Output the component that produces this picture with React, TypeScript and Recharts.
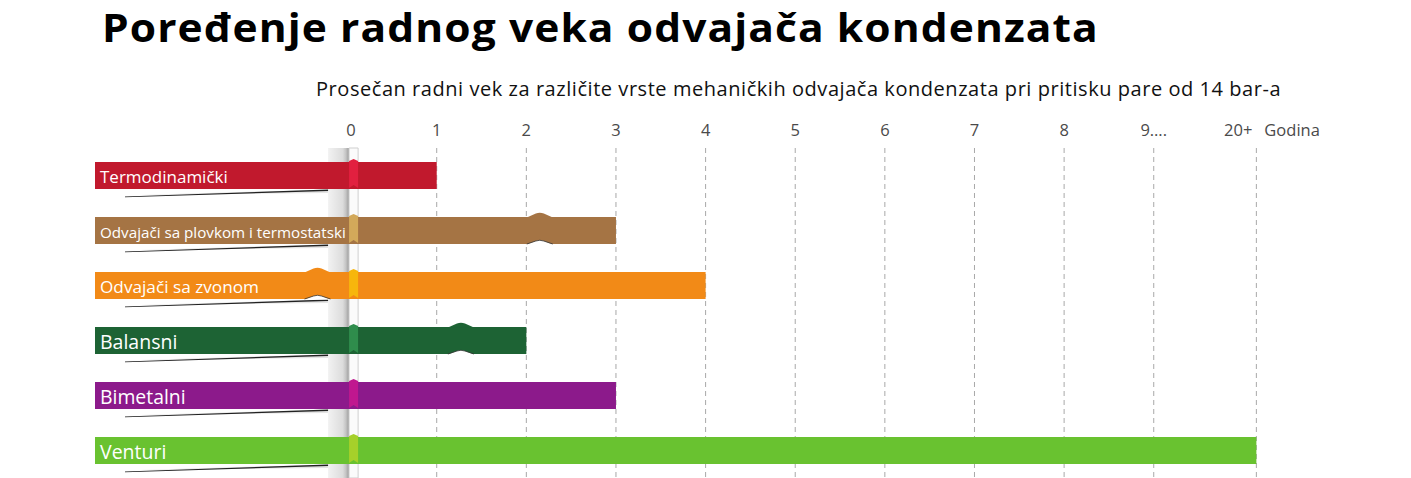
import { BarChart, Bar, XAxis, YAxis, CartesianGrid, ReferenceArea } from 'recharts'

// trap types, top to bottom
const TRAP_TYPES = [
  'Termodinamički',
  'Odvajači sa plovkom i termostatski',
  'Odvajači sa zvonom',
  'Balansni',
  'Bimetalni',
  'Venturi',
]
// average service life in years (Venturi sits on the "20+" mark)
const LIFE_YEARS = [1, 3, 4, 2, 3, 10.145]

const TICK_VALUES = [0, 1, 2, 3, 4, 5, 6, 7, 8, 9, 10.145]
const TICK_LABELS = ['0', '1', '2', '3', '4', '5', '6', '7', '8', '9….', '20+']

const BAR_COLORS = ['#c1192d', '#a57444', '#f28a17', '#1d6334', '#8c1a8b', '#69c230']
const ZERO_COLORS = ['#e2203f', '#d3a95a', '#f7b60c', '#2f8d4c', '#c0178f', '#a6d02a']
const LABEL_FONT = [17, 15.2, 17.2, 19.5, 19.4, 19.5]
// little decorative "folds" in some ribbons (in axis units)
const FOLD_AT: (number | null)[] = [null, 2.15, -0.33, 1.27, null, null]

const XMIN = -2.8125
const XMAX = 11
const PILLAR_L = -0.212
const PILLAR_M = 0.022
const PILLAR_R = 0.123
const FONT = '"Open Sans", "Noto Sans", sans-serif'

const data = TRAP_TYPES.map((name, i) => ({ name, years: LIFE_YEARS[i], idx: i }))

function YearTick(props: any) {
  const { x, y, payload, index } = props
  const label = TICK_LABELS[TICK_VALUES.indexOf(payload.value)] ?? String(payload.value)
  const last = index === TICK_VALUES.length - 1
  const tx = last ? x - 4 : payload.value === 0 ? x + 4 : x
  return (
    <g>
      <text x={tx} y={y} dy={-4} textAnchor={last ? 'end' : 'middle'} fill="#4a4a4a" fontSize={16.5} fontFamily={FONT}>
        {label}
      </text>
      {last && (
        <text x={x + 8} y={y} dy={-4} textAnchor="start" fill="#4a4a4a" fontSize={16.5} fontFamily={FONT}>Godina</text>
      )}
    </g>
  )
}

function TrapBar(props: any) {
  const { x, y, width, height, payload } = props
  const i = payload.idx
  const px = (v: number) => x + (width * (v - XMIN)) / (payload.years - XMIN)
  const xl = px(PILLAR_L)
  const xz = px((PILLAR_M + PILLAR_R) / 2)
  const b = y + height
  const f = FOLD_AT[i]
  const xf = f == null ? 0 : px(f)
  return (
    <g>
      {/* shadow under the label part */}
      <polygon points={`${x + 45},${b + 6} ${xl},${b + 0.5} ${xl},${b + 4}`} fill="#e4e4e4" />
      <polygon points={`${x + 30},${b + 7.5} ${xl},${b + 0.5} ${xl},${b + 2} ${x + 30},${b + 8.3}`} fill="#222" />
      <rect x={x} y={y} width={width} height={height} fill={BAR_COLORS[i]} />
      <polygon
        points={`${xz - 4.5},${y - 1} ${xz},${y - 3} ${xz + 4.5},${y - 1} ${xz + 4.5},${b - 1} ${xz},${b - 4} ${xz - 4.5},${b - 1}`}
        fill={ZERO_COLORS[i]}
      />
      {f != null && (
        <g>
          <path d={`M${xf - 13},${y + 0.5} L${xf - 4},${y - 3.5} Q${xf},${y - 5} ${xf + 4},${y - 3.5} L${xf + 13},${y + 0.5} Z`} fill={BAR_COLORS[i]} />
          <path d={`M${xf - 13},${b + 0.5} L${xf - 4},${b - 3} Q${xf},${b - 4.5} ${xf + 4},${b - 3} L${xf + 13},${b + 0.5} Z`} fill="#fff" />
          <path d={`M${xf - 13},${b} L${xf - 4},${b - 3} Q${xf},${b - 4.5} ${xf + 4},${b - 3} L${xf + 13},${b}`} fill="none" stroke="#333" strokeWidth={0.8} />
        </g>
      )}
      <text
        x={x + 5}
        y={y + height / 2 + 1}
        dominantBaseline="central"
        fill="#fff"
        fontSize={LABEL_FONT[i]}
        fontFamily={FONT}
      >
        {payload.name}
      </text>
    </g>
  )
}

export default function App() {
  return (
    <div style={{ position: 'absolute', left: 0, top: 0, width: 1411, height: 478, background: '#fff' }}>
      <div style={{ position: 'absolute', left: 102, top: 0, fontFamily: FONT, fontWeight: 700, fontSize: 39, letterSpacing: 1, transform: 'scaleX(1.09)', transformOrigin: '0 0', color: '#000', whiteSpace: 'nowrap' }}>
        Poređenje radnog veka odvajača kondenzata
      </div>
      <div style={{ position: 'absolute', left: 316, top: 77, fontFamily: FONT, fontSize: 20, letterSpacing: 0.55, lineHeight: 1.2, color: '#111', whiteSpace: 'nowrap' }}>
        Prosečan radni vek za različite vrste mehaničkih odvajača kondenzata pri pritisku pare od 14 bar-a
      </div>
      <BarChart
        width={1411}
        height={478}
        data={data}
        layout="vertical"
        margin={{ top: 118, right: 78, bottom: 0, left: 95 }}
        barSize={27}
      >
        <defs>
          <linearGradient id="pillar" x1="0" y1="0" x2="1" y2="0">
            <stop offset="0%" stopColor="#f2f2f2" />
            <stop offset="70%" stopColor="#dcdcdc" />
            <stop offset="85%" stopColor="#c4c4c4" />
            <stop offset="100%" stopColor="#9a9a9a" />
          </linearGradient>
        </defs>
        <CartesianGrid horizontal={false} verticalValues={TICK_VALUES} stroke="#a8a8a8" strokeDasharray="5 4" />
        <XAxis
          type="number"
          orientation="top"
          domain={[XMIN, XMAX]}
          ticks={TICK_VALUES}
          allowDataOverflow
          axisLine={false}
          tickLine={false}
          height={30}
          tick={<YearTick />}
          interval={0}
        />
        <YAxis type="category" dataKey="name" hide />
        <ReferenceArea x1={PILLAR_L} x2={PILLAR_M} fill="url(#pillar)" fillOpacity={1} ifOverflow="visible" />
        <ReferenceArea x1={PILLAR_M} x2={PILLAR_R} fill="#fbfbfb" fillOpacity={1} stroke="#cfcfcf" strokeWidth={1} ifOverflow="visible" />
        <Bar dataKey={(d: any) => [XMIN, d.years]} shape={<TrapBar />} isAnimationActive={false} />
      </BarChart>
    </div>
  )
}
